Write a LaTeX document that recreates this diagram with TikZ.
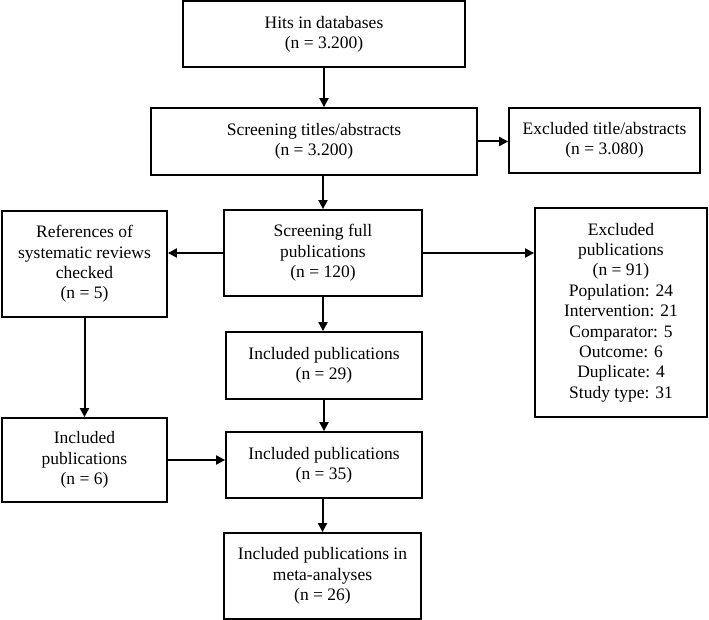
\documentclass[tikz,border=0pt]{standalone}
\usepackage{fontspec}
\setmainfont{Liberation Serif}
\usetikzlibrary{arrows.meta,calc}

\begin{document}
\begin{tikzpicture}[x=1pt,y=-1pt,
  every node/.style={draw,line width=1.8pt,align=center,inner sep=0pt,
    font=\fontsize{17.5}{20.4}\selectfont},
  link/.style={line width=2pt,-{Triangle[length=9pt,width=9pt]}}]
\useasboundingbox (0,0) rectangle (709,620);

\node (hits) [minimum width=282,minimum height=66] at (324,34)
  {Hits in databases\\(n = 3.200)};
\node (scrt) [minimum width=326,minimum height=67] at (314,141.5)
  {Screening titles/abstracts\\(n = 3.200)};
\node (exta) [minimum width=191,minimum height=65] at (604.5,140.5)
  {Excluded title/abstracts\\(n = 3.080)};
\node (scrf) [minimum width=198,minimum height=86] at (323,253)
  {Screening full\\publications\\(n = 120)};
\node (refs) [minimum width=165,minimum height=106] at (84.5,264)
  {References of\\systematic reviews\\checked\\(n = 5)};
\node (excp) [minimum width=172,minimum height=209] at (621,312.5)
  {Excluded\\publications\\(n = 91)\\Population: 24\\Intervention: 21\\
   Comparator: 5\\Outcome: 6\\Duplicate: 4\\Study type: 31};
\node (inc29) [minimum width=196,minimum height=67] at (324,365.5)
  {Included publications\\(n = 29)};
\node (inc35) [minimum width=196,minimum height=66] at (324,465)
  {Included publications\\(n = 35)};
\node (inc6) [minimum width=165,minimum height=84] at (84.5,460)
  {Included\\publications\\(n = 6)};
\node (meta) [minimum width=197,minimum height=86] at (322.5,576)
  {Included publications in\\meta-analyses\\(n = 26)};

\draw [link] (hits.south) -- (hits.south |- scrt.north);
\draw [link] (scrt.east) -- (scrt.east -| exta.west);
\draw [link] (scrf.north |- scrt.south) -- (scrf.north);
\draw [link] (scrf.west) -- (scrf.west -| refs.east);
\draw [link] (scrf.east) -- (scrf.east -| excp.west);
\draw [link] (scrf.south) -- (scrf.south |- inc29.north);
\draw [link] (inc29.south) -- (inc35.north);
\draw [link] (refs.south) -- (inc6.north);
\draw [link] (inc6.east) -- (inc6.east -| inc35.west);
\draw [link] (inc35.south -| meta.north) -- (meta.north);
\end{tikzpicture}
\end{document}
